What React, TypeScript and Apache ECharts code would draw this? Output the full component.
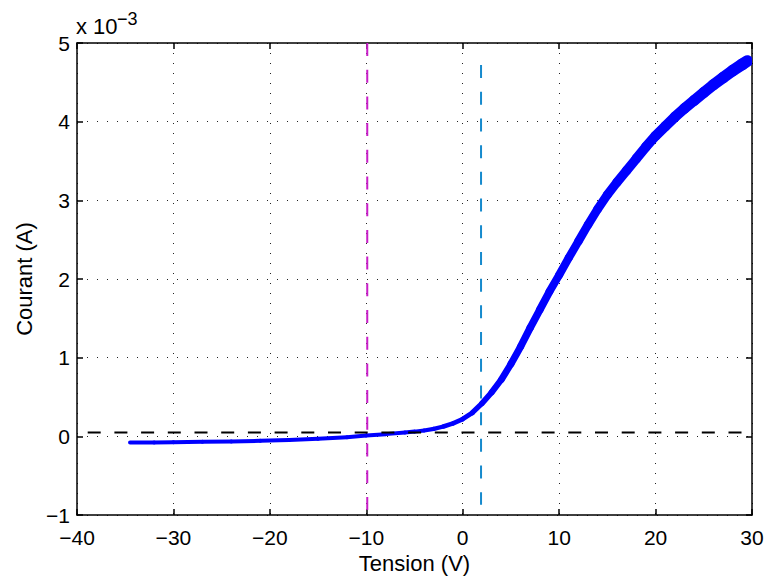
import React, { useEffect, useRef } from "react";
import * as echarts from "echarts";

// Tension (V)
const tension = [
  -34.5, -32, -30, -27, -24, -21, -18, -15, -12, -10, -8, -6, -5, -4, -3, -2, -1,
  0, 1, 2, 3, 4, 5, 6, 7, 8, 9, 10, 11, 12, 13, 14, 15, 16, 17, 18, 19, 20,
  21, 22, 23, 24, 25, 26, 27, 28, 29, 29.5,
];
// Courant (x 10^-3 A)
const courant = [
  -0.078, -0.077, -0.075, -0.07, -0.065, -0.057, -0.047, -0.032, -0.012, 0.01, 0.028, 0.048, 0.06, 0.075, 0.095, 0.125, 0.165,
  0.22, 0.3, 0.42, 0.56, 0.72, 0.92, 1.14, 1.38, 1.61, 1.84, 2.05, 2.27, 2.48, 2.69, 2.89, 3.07, 3.23, 3.38, 3.53, 3.68, 3.82,
  3.94, 4.06, 4.17, 4.27, 4.37, 4.47, 4.56, 4.65, 4.73, 4.77,
];

const xTicks = [-40, -30, -20, -10, 0, 10, 20, 30];
const yTicks = [-1, 0, 1, 2, 3, 4, 5];

const seuilCourant = 0.05; // horizontal dashed line (x 10^-3 A)
const tensionFlottante = -9.9; // magenta vertical line (V)
const flottanteY = [5, -1];
const tensionPlasma = 1.9; // cyan vertical line (V)
const plasmaY = [4.72, -0.87];

const FONT = '"Liberation Sans", Arial, Helvetica, sans-serif';

// line thickness (style) along the curve, px, by tension
const widthKeys: [number, number][] = [
  [-40, 4], [-4, 4], [1, 5], [5, 7], [10, 8], [20, 10], [30, 12],
];
function widthAt(x: number) {
  for (let k = 0; k < widthKeys.length - 1; k++) {
    const [x0, w0] = widthKeys[k];
    const [x1, w1] = widthKeys[k + 1];
    if (x >= x0 && x <= x1) return w0 + ((x - x0) / (x1 - x0)) * (w1 - w0);
  }
  return widthKeys[widthKeys.length - 1][1];
}

const minus = (v: number) => String(v).replace("-", "\u2212");

export default function App() {
  const ref = useRef<HTMLDivElement>(null);
  useEffect(() => {
    if (!ref.current) return;
    const chart = echarts.init(ref.current, undefined, { renderer: "svg" });
    const axisCommon = {
      axisLine: { show: true, onZero: false, lineStyle: { color: "#000", width: 1.5 } },
      axisTick: { show: true, inside: true, length: 6, lineStyle: { color: "#000", width: 1.5 } },
    };
    const gridLine = { show: true, lineStyle: { color: "#222", width: 1, type: [1, 9] as any } };
    const labelStyle = { color: "#000", fontSize: 21, fontFamily: FONT };
    chart.setOption({
      animation: false,
      backgroundColor: "#fff",
      grid: { left: 77, right: 16, top: 43, bottom: 61, outerBoundsMode: "none" } as any,
      xAxis: [
        {
          type: "value", min: xTicks[0], max: xTicks[xTicks.length - 1], interval: 10,
          position: "bottom",
          ...axisCommon,
          splitLine: gridLine,
          axisLabel: { ...labelStyle, margin: 12, formatter: (v: number) => minus(v) },
          name: "Tension (V)", nameLocation: "middle", nameGap: 35,
          nameTextStyle: { color: "#000", fontSize: 22, fontFamily: FONT },
        },
        {
          type: "value", min: xTicks[0], max: xTicks[xTicks.length - 1], interval: 10,
          position: "top", ...axisCommon, splitLine: { show: false }, axisLabel: { show: false },
        },
      ],
      yAxis: [
        {
          type: "value", min: yTicks[0], max: yTicks[yTicks.length - 1], interval: 1,
          position: "left", ...axisCommon,
          splitLine: gridLine,
          axisLabel: { ...labelStyle, margin: 7, formatter: (v: number) => minus(v) },
          name: "Courant (A)", nameLocation: "middle", nameGap: 41, nameRotate: 90,
          nameTextStyle: { color: "#000", fontSize: 22, fontFamily: FONT },
        },
        {
          type: "value", min: yTicks[0], max: yTicks[yTicks.length - 1], interval: 1,
          position: "right", ...axisCommon, splitLine: { show: false }, axisLabel: { show: false },
        },
      ],
      graphic: [
        { type: "text", x: 76, y: 26, style: { text: "x 10", fontSize: 22, fontFamily: FONT, fill: "#000", verticalAlign: "middle" } },
        { type: "text", x: 117, y: 19, style: { text: "\u22123", fontSize: 18, fontFamily: FONT, fill: "#000", verticalAlign: "middle" } },
      ],
      series: [
        {
          type: "custom",
          coordinateSystem: "cartesian2d",
          clip: true,
          z: 2,
          encode: { x: 0, y: 1 },
          data: tension.map((t, i) => [t, courant[i]]),
          renderItem: (params: any, api: any) => {
            const i = params.dataIndex;
            if (i >= tension.length - 1) return null;
            const p0 = api.coord([tension[i], courant[i]]);
            const p1 = api.coord([tension[i + 1], courant[i + 1]]);
            return {
              type: "line",
              shape: { x1: p0[0], y1: p0[1], x2: p1[0], y2: p1[1] },
              style: { stroke: "#0000FF", lineWidth: widthAt((tension[i] + tension[i + 1]) / 2), lineCap: "round" },
            };
          },
        },
        {
          type: "line", symbol: "none", z: 5, silent: true,
          data: [[xTicks[0], seuilCourant], [xTicks[xTicks.length - 1], seuilCourant]],
          lineStyle: { color: "#000", width: 2, type: [13, 13.7], dashOffset: 15.7 },
        },
        {
          type: "line", symbol: "none", z: 5, silent: true,
          data: flottanteY.map((y) => [tensionFlottante, y]),
          lineStyle: { color: "#C81EC8", width: 2, type: [13, 13.7] },
        },
        {
          type: "line", symbol: "none", z: 5, silent: true,
          data: plasmaY.map((y) => [tensionPlasma, y]),
          lineStyle: { color: "#168ACD", width: 2, type: [13, 13.7] },
        },
      ],
    });
    return () => chart.dispose();
  }, []);
  return <div ref={ref} style={{ position: "fixed", left: 0, top: 0, width: 768, height: 576 }} />;
}
